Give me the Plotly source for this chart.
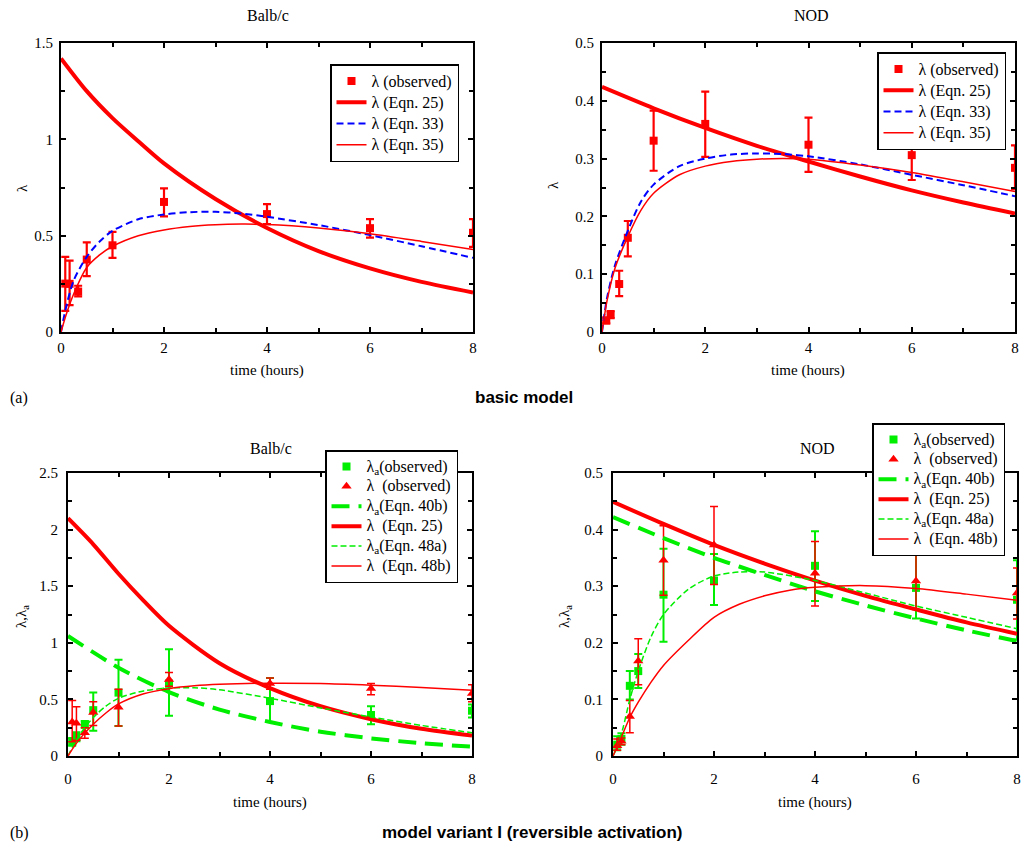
import plotly.graph_objects as go

W, H = 1021, 848
RED = "#ff0000"
BLUE = "#0000ff"
GREEN = "#00ee00"
SERIF = "Liberation Serif, Times New Roman, serif"
SANS = "Liberation Sans, Arial, sans-serif"

# ---------------- Panel (a) Balb/c ----------------
a1_t_obs = [0.083, 0.167, 0.333, 0.5, 1, 2, 4, 6, 8]
a1_lam_obs = [0.251, 0.25, 0.21, 0.376, 0.45, 0.675, 0.612, 0.539, 0.515]
a1_lam_lo = [0.11, 0.14, 0.185, 0.29, 0.385, 0.60, 0.56, 0.49, 0.442]
a1_lam_hi = [0.39, 0.37, 0.24, 0.465, 0.52, 0.745, 0.664, 0.586, 0.586]
a1_t25 = [0, 0.5, 1, 1.5, 2, 3, 4, 5, 6, 7, 8]
a1_eq25 = [1.42, 1.25, 1.11, 0.99, 0.875, 0.69, 0.54, 0.42, 0.33, 0.26, 0.205]
a1_tc = [0, 0.1, 0.25, 0.5, 0.75, 1, 1.5, 2, 2.5, 3, 3.5, 4, 5, 6, 7, 8]
a1_eq33 = [0, 0.13, 0.27, 0.39, 0.47, 0.525, 0.585, 0.61, 0.622, 0.624, 0.615, 0.598, 0.555, 0.503, 0.445, 0.385]
a1_eq35 = [0, 0.09, 0.2, 0.335, 0.40, 0.445, 0.5, 0.53, 0.548, 0.557, 0.56, 0.558, 0.54, 0.51, 0.47, 0.428]

# ---------------- Panel (a) NOD ----------------
a2_t_obs = [0.083, 0.167, 0.333, 0.5, 1, 2, 4, 6, 8]
a2_lam_obs = [0.02, 0.03, 0.083, 0.163, 0.331, 0.36, 0.324, 0.306, 0.284]
a2_lam_lo = [0.015, 0.024, 0.062, 0.131, 0.279, 0.303, 0.277, 0.263, 0.247]
a2_lam_hi = [0.025, 0.036, 0.106, 0.192, 0.383, 0.416, 0.371, 0.349, 0.323]
a2_t25 = [0, 1, 2, 3, 4, 5, 6, 7, 8]
a2_eq25 = [0.424, 0.387, 0.353, 0.322, 0.295, 0.269, 0.245, 0.224, 0.205]
a2_tc = [0, 0.1, 0.25, 0.5, 0.75, 1, 1.5, 2, 2.5, 3, 3.5, 4, 5, 6, 7, 8]
a2_eq33 = [0, 0.06, 0.115, 0.175, 0.225, 0.255, 0.287, 0.30, 0.307, 0.309, 0.308, 0.304, 0.29, 0.272, 0.254, 0.235]
a2_eq35 = [0, 0.055, 0.11, 0.165, 0.21, 0.24, 0.272, 0.287, 0.295, 0.299, 0.30, 0.299, 0.289, 0.276, 0.26, 0.243]

# ---------------- Panel (b) Balb/c ----------------
b1_t_obs = [0.083, 0.167, 0.333, 0.5, 1, 2, 4, 6, 8]
b1_la_obs = [0.126, 0.17, 0.28, 0.405, 0.56, 0.64, 0.485, 0.362, 0.40]
b1_la_lo = [0.09, 0.13, 0.25, 0.223, 0.265, 0.356, 0.30, 0.28, 0.34]
b1_la_hi = [0.16, 0.21, 0.31, 0.562, 0.85, 0.944, 0.69, 0.44, 0.455]
b1_l_obs = [0.30, 0.29, 0.205, 0.385, 0.43, 0.676, 0.64, 0.597, 0.553]
b1_l_lo = [0.126, 0.14, 0.156, 0.27, 0.265, 0.617, 0.59, 0.54, 0.48]
b1_l_hi = [0.49, 0.435, 0.25, 0.48, 0.59, 0.738, 0.69, 0.64, 0.63]
b1_t25 = [0, 0.5, 1, 1.5, 2, 3, 4, 5, 6, 7, 8]
b1_eq25 = [2.1, 1.87, 1.61, 1.37, 1.15, 0.82, 0.6, 0.44, 0.325, 0.24, 0.18]
b1_t40 = [0, 1, 2, 3, 4, 5, 6, 7, 8]
b1_eq40b = [1.06, 0.78, 0.565, 0.41, 0.30, 0.215, 0.156, 0.113, 0.082]
b1_tc = [0, 0.1, 0.25, 0.5, 0.75, 1, 1.5, 2, 2.5, 3, 4, 5, 6, 7, 8]
b1_eq48a = [0, 0.09, 0.2, 0.34, 0.44, 0.51, 0.575, 0.60, 0.603, 0.585, 0.51, 0.425, 0.345, 0.27, 0.205]
b1_eq48b = [0, 0.07, 0.16, 0.28, 0.38, 0.46, 0.55, 0.595, 0.62, 0.633, 0.643, 0.64, 0.625, 0.605, 0.58]

# ---------------- Panel (b) NOD ----------------
b2_t_obs = [0.083, 0.167, 0.333, 0.5, 1, 2, 4, 6, 8]
b2_la_obs = [0.02, 0.03, 0.124, 0.15, 0.285, 0.31, 0.336, 0.297, 0.276]
b2_la_lo = [0.01, 0.02, 0.10, 0.12, 0.202, 0.267, 0.274, 0.243, 0.206]
b2_la_hi = [0.035, 0.04, 0.15, 0.18, 0.366, 0.357, 0.397, 0.359, 0.346]
b2_l_obs = [0.018, 0.026, 0.07, 0.168, 0.346, 0.373, 0.323, 0.309, 0.288]
b2_l_lo = [0.01, 0.02, 0.041, 0.126, 0.284, 0.303, 0.265, 0.259, 0.242]
b2_l_hi = [0.03, 0.032, 0.098, 0.207, 0.407, 0.441, 0.379, 0.362, 0.332]
b2_t25 = [0, 1, 2, 3, 4, 5, 6, 7, 8]
b2_eq25 = [0.449, 0.41, 0.373, 0.34, 0.31, 0.283, 0.259, 0.236, 0.216]
b2_eq40b = [0.422, 0.385, 0.35, 0.32, 0.291, 0.266, 0.243, 0.222, 0.203]
b2_tc48a = [0, 0.1, 0.2, 0.333, 0.5, 0.75, 1, 1.5, 2, 2.5, 3, 4, 5, 6, 7, 8]
b2_eq48a = [0, 0.02, 0.05, 0.10, 0.15, 0.21, 0.25, 0.295, 0.318, 0.325, 0.325, 0.31, 0.288, 0.265, 0.245, 0.225]
b2_tc48b = [0, 0.15, 0.333, 0.5, 0.75, 1, 1.5, 2, 2.5, 3, 3.5, 4, 5, 6, 7, 8]
b2_eq48b = [0, 0.03, 0.068, 0.095, 0.13, 0.16, 0.205, 0.245, 0.268, 0.283, 0.293, 0.298, 0.301, 0.296, 0.286, 0.275]

L = "\u03bb"
La = "\u03bb<sub>a</sub>"
NB = "\u00a0"


def px(x):
    return x / W


def py(y):
    return 1 - y / H


def lg(s):
    return '<span style="font-size:16px">' + s + "</span>"


def err(obs, lo, hi):
    return dict(type="data", symmetric=False,
                array=[h - o for o, h in zip(obs, hi)],
                arrayminus=[o - l for o, l in zip(obs, lo)])


fig = go.Figure()


def obs_trace(t, v, lo, hi, name, color, symbol, size, ax, leg, ew, cap):
    e = err(v, lo, hi)
    e.update(color=color, thickness=ew, width=cap)
    fig.add_trace(go.Scatter(x=t, y=v, mode="markers", name=lg(name),
                             marker=dict(symbol=symbol, size=size, color=color),
                             error_y=e, xaxis="x" + ax, yaxis="y" + ax, legend=leg))


def line_trace(t, v, name, color, width, dash, ax, leg):
    fig.add_trace(go.Scatter(x=t, y=v, mode="lines", name=lg(name),
                             line=dict(color=color, width=width, dash=dash, shape="spline", smoothing=0.8),
                             xaxis="x" + ax, yaxis="y" + ax, legend=leg))


# Panel 1
obs_trace(a1_t_obs, a1_lam_obs, a1_lam_lo, a1_lam_hi, L + " (observed)", RED, "square", 8, "", "legend", 2.2, 4)
line_trace(a1_t25, a1_eq25, L + " (Eqn. 25)", RED, 4, "solid", "", "legend")
line_trace(a1_tc, a1_eq33, L + " (Eqn. 33)", BLUE, 2, "7px,4px", "", "legend")
line_trace(a1_tc, a1_eq35, L + " (Eqn. 35)", RED, 1.5, "solid", "", "legend")

# Panel 2
obs_trace(a2_t_obs, a2_lam_obs, a2_lam_lo, a2_lam_hi, L + " (observed)", RED, "square", 8, "2", "legend2", 2.2, 4)
line_trace(a2_t25, a2_eq25, L + " (Eqn. 25)", RED, 4, "solid", "2", "legend2")
line_trace(a2_tc, a2_eq33, L + " (Eqn. 33)", BLUE, 2, "7px,4px", "2", "legend2")
line_trace(a2_tc, a2_eq35, L + " (Eqn. 35)", RED, 1.5, "solid", "2", "legend2")

# Panel 3
obs_trace(b1_t_obs, b1_la_obs, b1_la_lo, b1_la_hi, La + "(observed)", GREEN, "square", 8, "3", "legend3", 2, 4)
obs_trace(b1_t_obs, b1_l_obs, b1_l_lo, b1_l_hi, L + NB + NB + "(observed)", RED, "triangle-up", 9, "3", "legend3", 1.5, 4)
line_trace(b1_t40, b1_eq40b, La + "(Eqn. 40b)", GREEN, 4, "18px,9px", "3", "legend3")
line_trace(b1_t25, b1_eq25, L + NB + NB + "(Eqn. 25)", RED, 4, "solid", "3", "legend3")
line_trace(b1_tc, b1_eq48a, La + "(Eqn. 48a)", GREEN, 1.5, "6px,3px", "3", "legend3")
line_trace(b1_tc, b1_eq48b, L + NB + NB + "(Eqn. 48b)", RED, 1.5, "solid", "3", "legend3")

# Panel 4
obs_trace(b2_t_obs, b2_la_obs, b2_la_lo, b2_la_hi, La + "(observed)", GREEN, "square", 8, "4", "legend4", 2, 4)
obs_trace(b2_t_obs, b2_l_obs, b2_l_lo, b2_l_hi, L + NB + NB + "(observed)", RED, "triangle-up", 9, "4", "legend4", 1.5, 4)
line_trace(b2_t25, b2_eq40b, La + "(Eqn. 40b)", GREEN, 4, "18px,9px", "4", "legend4")
line_trace(b2_t25, b2_eq25, L + NB + NB + "(Eqn. 25)", RED, 4, "solid", "4", "legend4")
line_trace(b2_tc48a, b2_eq48a, La + "(Eqn. 48a)", GREEN, 1.5, "6px,3px", "4", "legend4")
line_trace(b2_tc48b, b2_eq48b, L + NB + NB + "(Eqn. 48b)", RED, 1.5, "solid", "4", "legend4")


def axis(domain, rng, dtick, minor, anchor, standoff):
    return dict(domain=domain, range=rng, dtick=dtick, tick0=0, ticks="inside", ticklen=5,
                tickwidth=1.5, tickcolor="black", showline=True, linewidth=2, linecolor="black",
                mirror="allticks", showgrid=False, zeroline=False, anchor=anchor,
                automargin=False, ticklabelstandoff=standoff,
                tickfont=dict(family=SERIF, size=15, color="black"),
                minor=dict(dtick=minor, ticks="inside", ticklen=4, tickwidth=1.5,
                           tickcolor="black", showgrid=False))


def legend(xr, yt, fs):
    return dict(x=px(xr), y=py(yt), xanchor="right", yanchor="top", bgcolor="white",
                bordercolor="black", borderwidth=1.5, itemwidth=30, tracegroupgap=0,
                font=dict(family=SERIF, size=fs, color="black"))


D1x = [px(61), px(473)]
D2x = [px(602), px(1015)]
D3x = [px(68), px(472)]
D4x = [px(613), px(1017)]
Dtop = [py(332), py(43)]
Dbot = [py(756), py(473)]

fig.update_layout(
    width=W, height=H, autosize=False, margin=dict(l=0, r=0, t=0, b=0, pad=0, autoexpand=False),
    paper_bgcolor="white", plot_bgcolor="white", showlegend=True,
    font=dict(family=SERIF, size=14, color="black"),
    xaxis=axis(D1x, [0, 8], 2, 1, "y", 1), yaxis=axis(Dtop, [0, 1.5], 0.5, 0.25, "x", 3),
    xaxis2=axis(D2x, [0, 8], 2, 1, "y2", 1), yaxis2=axis(Dtop, [0, 0.5], 0.1, 0.05, "x2", 3),
    xaxis3=axis(D3x, [0, 8], 2, 1, "y3", 8), yaxis3=axis(Dbot, [0, 2.5], 0.5, 0.25, "x3", 5),
    xaxis4=axis(D4x, [0, 8], 2, 1, "y4", 8), yaxis4=axis(Dbot, [0, 0.5], 0.1, 0.05, "x4", 5),
    legend=legend(459, 64, 14), legend2=legend(1006, 52, 14),
    legend3=legend(458, 450, 13), legend4=legend(1005, 423, 13),
)

ann = []


def text(x, y, s, size=15, family=SERIF, angle=0, bold=False, xanchor="center"):
    if bold:
        s = "<b>" + s + "</b>"
    ann.append(dict(x=px(x), y=py(y), xref="paper", yref="paper", text=s, showarrow=False,
                    xanchor=xanchor, yanchor="middle", textangle=angle,
                    font=dict(family=family, size=size, color="black")))


text(268, 15, "Balb/c", 16)
text(811, 15, "NOD", 16)
text(271, 448, "Balb/c", 16)
text(817, 448, "NOD", 16)
text(267, 370, "time (hours)")
text(808, 370, "time (hours)")
text(270, 802, "time (hours)")
text(815, 802, "time (hours)")
text(22, 188, L, angle=-90)
text(553, 185, L, angle=-90)
text(22, 617, L + "," + La, angle=-90)
text(565, 617, L + "," + La, angle=-90)
text(8, 398, "(a)", 16, xanchor="left")
text(8, 833, "(b)", 16, xanchor="left")
text(524, 397, "basic model", 17, SANS, bold=True)
text(532, 832, "model variant I (reversible activation)", 17, SANS, bold=True)

fig.update_layout(annotations=ann)
fig.write_html("out.html", config={"displayModeBar": False, "responsive": False},
               post_script="document.body.style.margin='0';document.body.style.overflow='hidden';")
